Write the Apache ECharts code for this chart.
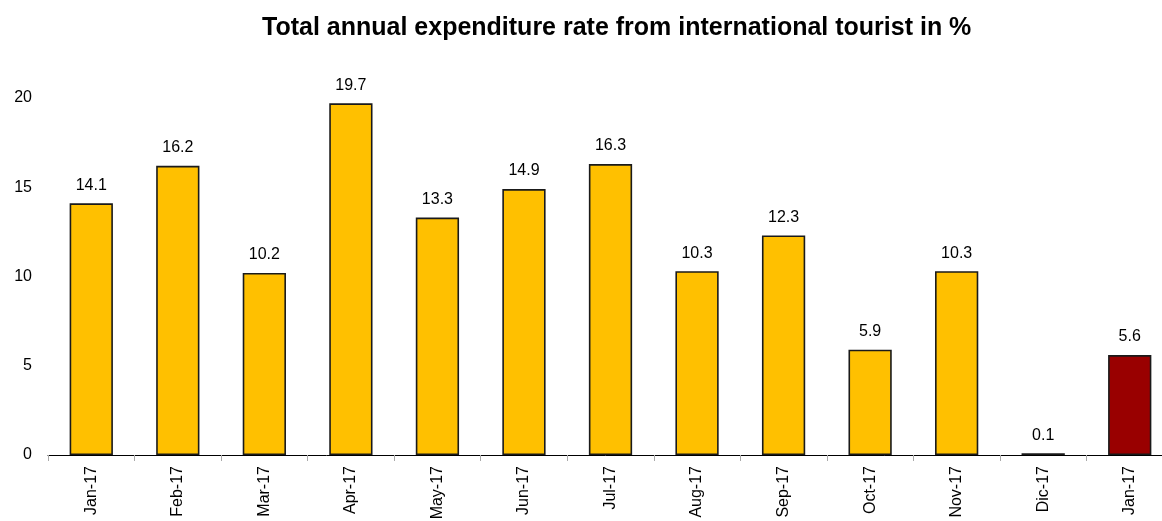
<!DOCTYPE html>
<html>
<head>
<meta charset="utf-8">
<script src="https://cdn.jsdelivr.net/npm/echarts@6/dist/echarts.min.js"></script>
<style>
    html, body { margin: 0; padding: 0; background: #fff; }
    #chart { width: 1162px; height: 521px; }
</style>
</head>
<body>
<div id="chart"></div>
<script>
// months on the x axis (the last one really reads Jan-17 in the source)
const months = ['Jan-17', 'Feb-17', 'Mar-17', 'Apr-17', 'May-17', 'Jun-17', 'Jul-17',
    'Aug-17', 'Sep-17', 'Oct-17', 'Nov-17', 'Dic-17', 'Jan-17']
// expenditure rate in %
const rates = [14.1, 16.2, 10.2, 19.7, 13.3, 14.9, 16.3, 10.3, 12.3, 5.9, 10.3, 0.1, 5.6]
const yTicks = [0, 5, 10, 15, 20]

const yellow = '#FFC000'
const darkRed = '#990000'

const chart = echarts.init(document.getElementById('chart'))

const option = {
    animation: false,
    title: {
        text: 'Total annual expenditure rate from international tourist in %',
        left: 257,
        top: 11,
        textStyle: {
            fontFamily: 'Liberation Sans',
            fontSize: 25,
            fontWeight: 'bold',
            color: '#000'
        }
    },
    grid: {
        left: 48,
        top: 98,
        bottom: 66,
        width: 1125,
        outerBoundsMode: 'none'
    },
    xAxis: {
        type: 'category',
        data: months,
        axisLine: { lineStyle: { color: '#000', width: 1 } },
        axisTick: { show: true, length: 6, lineStyle: { color: '#aaa' } },
        axisLabel: {
            rotate: 90,
            interval: 0,
            margin: 11,
            fontFamily: 'Liberation Sans',
            fontSize: 16,
            color: '#000'
        }
    },
    yAxis: {
        type: 'value',
        min: yTicks[0],
        max: yTicks[yTicks.length - 1],
        interval: 5,
        splitLine: { show: false },
        axisLine: { show: false },
        axisTick: { show: false },
        axisLabel: {
            margin: 16,
            fontFamily: 'Liberation Sans',
            fontSize: 16,
            color: '#000'
        }
    },
    series: [{
        type: 'bar',
        barWidth: '50%',
        data: rates.map((v, i) => ({
            value: v,
            itemStyle: { color: i === rates.length - 1 ? darkRed : yellow }
        })),
        itemStyle: { borderColor: '#1a1a1a', borderWidth: 1.6 },
        label: {
            show: true,
            position: 'top',
            distance: 10,
            formatter: p => p.value.toFixed(1),
            fontFamily: 'Liberation Sans',
            fontSize: 16,
            color: '#000'
        }
    }]
}

chart.setOption(option)
</script>
</body>
</html>
